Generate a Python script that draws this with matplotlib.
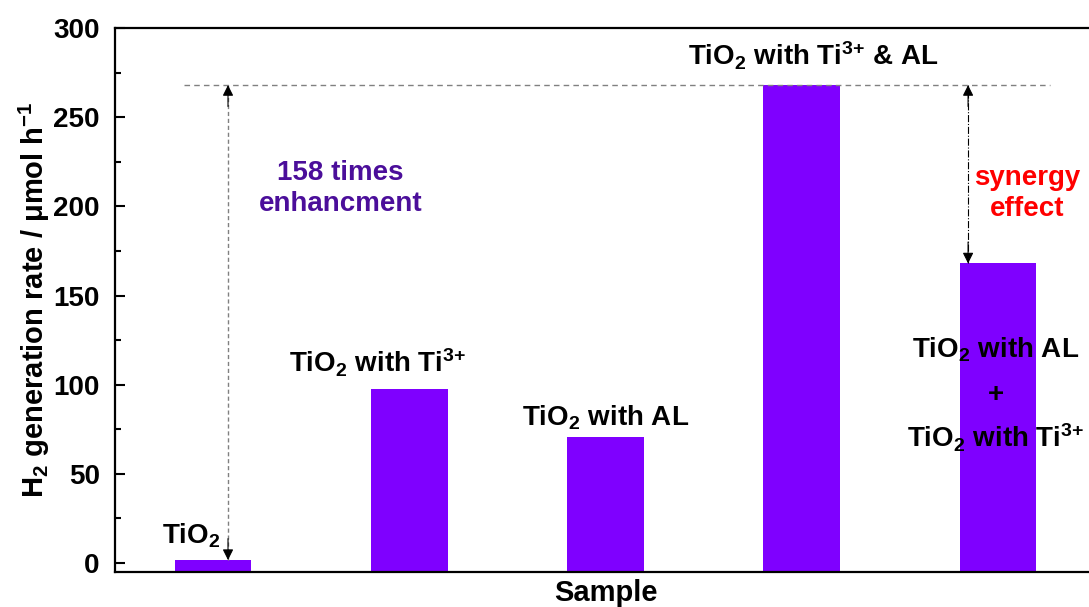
import numpy as np
import matplotlib.pyplot as plt

plt.rcParams['font.family'] = ['Liberation Sans', 'DejaVu Sans']
plt.rcParams['font.weight'] = 'bold'
plt.rcParams['mathtext.fontset'] = 'custom'
plt.rcParams['mathtext.rm'] = 'Liberation Sans:bold'
plt.rcParams['mathtext.it'] = 'Liberation Sans:bold'
plt.rcParams['mathtext.bf'] = 'Liberation Sans:bold'
plt.rcParams['mathtext.default'] = 'rm'

# data
samples = [1, 2, 3, 4, 5]
rates = np.array([1.7, 97.5, 70.5, 268, 168])
labels = [r'TiO$_2$', r'TiO$_2$ with Ti$^{3{+}}$', r'TiO$_2$ with AL',
          r'TiO$_2$ with Ti$^{3{+}}$ & AL']
label_x = [0.89, 1.84, 3.0, 4.06]
label_y = [11, 107, 77, 279]

ybot = -5
bar_color = '#7f00ff'
purple = '#4b0e9a'
fs = 20

fig = plt.figure(figsize=(10.89, 6.07), dpi=100)
ax = fig.add_axes([115/1089, 35/607, 981/1089, 544/607])

ax.bar(samples, rates - ybot, bottom=ybot, width=0.39, color=bar_color)

ax.set_xlim(0.5, 5.5)
ax.set_ylim(ybot, 300)
ax.set_xticks([])
ax.set_yticks([0, 50, 100, 150, 200, 250, 300])
ax.set_yticks(np.arange(25, 300, 50), minor=True)
ax.tick_params(axis='y', which='major', direction='in', length=7, width=1.5,
               labelsize=20, pad=11)
ax.tick_params(axis='y', which='minor', direction='in', length=4, width=1.5)
for lab in ax.get_yticklabels():
    lab.set_fontweight('bold')
for s in ['left', 'top', 'bottom']:
    ax.spines[s].set_linewidth(1.6)
ax.spines['right'].set_visible(False)

ax.set_xlabel('Sample', fontsize=21, fontweight='bold', labelpad=5)
ax.set_ylabel(r'H$_2$ generation rate / μmol h$^{-1}$', fontsize=21,
              fontweight='bold', labelpad=1)

# bar labels
for x, y, t in zip(label_x, label_y, labels):
    ax.text(x, y, t, fontsize=fs, fontweight='bold', ha='center', va='baseline')
ax.text(4.99, 115, r'TiO$_2$ with AL', fontsize=fs, fontweight='bold',
        ha='center', va='baseline')
ax.text(4.99, 94, '+', fontsize=fs, fontweight='bold', ha='center', va='center')
ax.text(4.99, 65, r'TiO$_2$ with Ti$^{3{+}}$', fontsize=fs, fontweight='bold',
        ha='center', va='baseline')

# reference dashed line at max
ax.hlines(rates[3], 0.85, 5.265, colors='gray', linestyles=(0, (4, 3)), lw=1)

# arrow 1 (158 times)
xa = 1.076
ax.vlines(xa, rates[0], rates[3], colors='gray', linestyles=(0, (3, 2)), lw=1)
ax.annotate('', xy=(xa, rates[3]), xytext=(xa, rates[3] - 12),
            arrowprops=dict(arrowstyle='-|>', color='black', lw=0.8,
                            mutation_scale=16, shrinkA=0, shrinkB=0))
ax.annotate('', xy=(xa, rates[0]), xytext=(xa, rates[0] + 12),
            arrowprops=dict(arrowstyle='-|>', color='black', lw=0.8,
                            mutation_scale=16, shrinkA=0, shrinkB=0))
ax.text(1.65, 210, '158 times\nenhancment', fontsize=fs, fontweight='bold',
        color=purple, ha='center', va='center', linespacing=1.25)

# arrow 2 (synergy)
xb = 4.848
ax.vlines(xb, rates[4], rates[3], colors='black', linestyles='-.', lw=0.8)
ax.annotate('', xy=(xb, rates[3]), xytext=(xb, rates[3] - 12),
            arrowprops=dict(arrowstyle='-|>', color='black', lw=0.8,
                            mutation_scale=16, shrinkA=0, shrinkB=0))
ax.annotate('', xy=(xb, rates[4]), xytext=(xb, rates[4] + 12),
            arrowprops=dict(arrowstyle='-|>', color='black', lw=0.8,
                            mutation_scale=16, shrinkA=0, shrinkB=0))
ax.text(5.15, 207, 'synergy\neffect', fontsize=fs, fontweight='bold',
        color='red', ha='center', va='center', linespacing=1.25)

plt.savefig('out.png', dpi=100)
